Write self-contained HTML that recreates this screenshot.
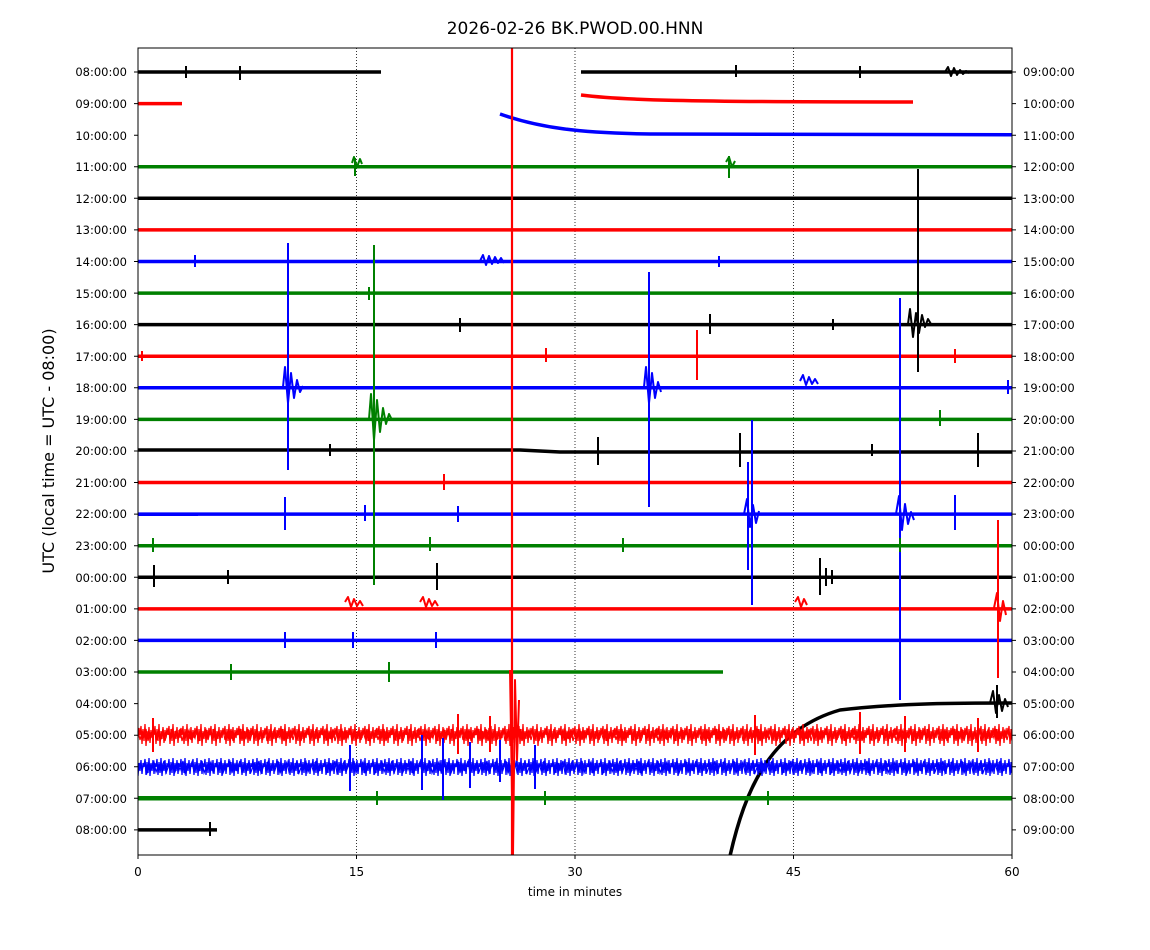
<!DOCTYPE html>
<html><head><meta charset="utf-8"><style>
body{margin:0;background:#fff;}
svg{display:block;font-family:"DejaVu Sans","Liberation Sans",sans-serif;}
</style></head><body>
<svg width="1150" height="950" viewBox="0 0 1150 950" xmlns="http://www.w3.org/2000/svg">
<rect width="1150" height="950" fill="#fff"/>
<defs>
<clipPath id="c"><rect x="138" y="48" width="874" height="807"/></clipPath>
<pattern id="pr" patternUnits="userSpaceOnUse" x="0" y="717" width="14" height="36"><path d="M0 18 L1 9 L2 27 L3 12 L4 24 L5 7 L6 29 L7 14 L8 22 L9 10 L10 26 L11 13 L12 21 L13 11 L14 18" fill="none" stroke="#f00" stroke-width="1.3"/></pattern>
<pattern id="pr2" patternUnits="userSpaceOnUse" x="0" y="717" width="17" height="36"><path d="M0 18 L2 13 L4 23 L6 15 L8 21 L10 12 L12 24 L14 16 L17 18" fill="none" stroke="#f00" stroke-width="1.2"/></pattern>
<pattern id="pb" patternUnits="userSpaceOnUse" x="0" y="750" width="12" height="34"><path d="M0 17 L1 9 L2 25 L3 12 L4 23 L5 8 L6 26 L7 13 L8 21 L9 10 L10 24 L11 13 L12 17" fill="none" stroke="#00f" stroke-width="1.3"/></pattern>
<pattern id="pb2" patternUnits="userSpaceOnUse" x="0" y="750" width="19" height="34"><path d="M0 17 L2 12 L4 22 L7 14 L9 20 L12 11 L14 23 L17 15 L19 17" fill="none" stroke="#00f" stroke-width="1.2"/></pattern>
</defs>
<text x="575" y="34" font-size="17" text-anchor="middle">2026-02-26 BK.PWOD.00.HNN</text>
<g stroke="#000" stroke-width="0.8" stroke-dasharray="1,2">
<line x1="356.5" y1="48" x2="356.5" y2="855"/><line x1="575" y1="48" x2="575" y2="855"/><line x1="793.5" y1="48" x2="793.5" y2="855"/>
</g>
<g clip-path="url(#c)" fill="none" stroke-linejoin="round">
<g stroke-width="3.5">
<path stroke="#000" d="M138 72H381M581 72H1012"/>
<path stroke="#f00" d="M138 103.6H182"/>
<path stroke="#f00" d="M581 95 C620 100 680 102 913 102"/>
<path stroke="#00f" d="M500 114 C540 128 580 133 650 134 L1012 134.8"/>
<path stroke="#008000" d="M138 166.7H1012"/>
<path stroke="#000" d="M138 198.3H1012"/>
<path stroke="#f00" d="M138 229.9H1012"/>
<path stroke="#00f" d="M138 261.5H1012"/>
<path stroke="#008000" d="M138 293.1H1012"/>
<path stroke="#000" d="M138 324.6H1012"/>
<path stroke="#f00" d="M138 356.2H1012"/>
<path stroke="#00f" d="M138 387.8H1012"/>
<path stroke="#008000" d="M138 419.4H1012"/>
<path stroke="#000" d="M138 450H520 L560 452 H1012"/>
<path stroke="#f00" d="M138 482.5H1012"/>
<path stroke="#00f" d="M138 514.1H1012"/>
<path stroke="#008000" d="M138 545.7H1012"/>
<path stroke="#000" d="M138 577.3H1012"/>
<path stroke="#f00" d="M138 608.9H1012"/>
<path stroke="#00f" d="M138 640.4H1012"/>
<path stroke="#008000" d="M138 672H723"/>
<path stroke="#000" d="M730 856 C745 790 770 730 840 710 C900 703 960 703 1012 703"/>
<path stroke="#008000" stroke-width="4.5" d="M138 798.3H1012"/>
<path stroke="#000" d="M138 829.9H217"/>
</g>
<rect x="138" y="717" width="874" height="36" fill="url(#pr)"/>
<rect x="138" y="717" width="874" height="36" fill="url(#pr2)"/>
<rect x="138" y="750" width="874" height="34" fill="url(#pb)"/>
<rect x="138" y="750" width="874" height="34" fill="url(#pb2)"/>
<rect x="138" y="513" width="60" height="3" fill="#00f"/>
<g stroke-width="2">
<path stroke="#000" d="M945 72 l3 -5 l3 9 l3 -8 l3 7 l3 -5 l3 4 l3 -3 l3 2 M186 66 v12 M240 66 v14 M736 65 v12 M860 66 v12"/>
<path stroke="#008000" d="M355 158 v18 M352 163 l2 -6 l3 10 l3 -8 l2 5 M729 156 v22 M726 162 l3 -5 l3 10 l3 -6"/>
<path stroke="#000" d="M918 169 V372 M908 324 l2 -15 l3 28 l3 -24 l3 20 l3 -18 l3 12 l3 -8 l3 5 M710 314 v20 M460 318 v14 M833 319 v11"/>
<path stroke="#00f" d="M480 261 l3 -6 l3 10 l3 -9 l3 8 l3 -7 l3 6 l3 -5 l3 5 M195 255 v12 M719 256 v11"/>
<path stroke="#008000" d="M369 287 v13"/>
<path stroke="#f00" d="M697 330 V380 M142 351 v10 M546 348 v14 M955 349 v14"/>
<path stroke="#00f" d="M288 243 V470 M283 387 l2 -20 l3 36 l3 -30 l3 25 l3 -18 l3 12 l3 -6 M649 272 V507 M644 387 l2 -20 l3 36 l3 -30 l3 25 l3 -16 l3 10 M800 381 l3 -6 l3 10 l3 -8 l3 7 l3 -5 l3 5 M1008 380 v14"/>
<path stroke="#008000" d="M374 245 V585 M369 419 l2 -25 l3 46 l3 -40 l3 32 l3 -24 l3 16 l3 -10 l3 6 M940 410 v16"/>
<path stroke="#000" d="M598 437 V465 M740 433 V467 M978 433 V467 M330 444 v12 M872 444 v12"/>
<path stroke="#f00" d="M444 474 v16"/>
<path stroke="#00f" d="M748 462 V570 M752 420 V605 M744 514 l3 -15 l3 28 l3 -22 l3 18 l3 -12 M900 298 V700 M896 514 l3 -18 l3 34 l3 -26 l3 20 l3 -12 l3 8 M955 495 V530 M285 497 V530 M458 506 v16 M365 505 v16"/>
<path stroke="#008000" d="M153 538 v14 M430 537 v14 M623 538 v14 M900 538 v14"/>
<path stroke="#000" d="M820 558 V595 M826 568 v18 M832 570 v14 M154 565 V587 M437 563 V590 M228 570 v14"/>
<path stroke="#f00" d="M998 520 V678 M994 608 l3 -15 l3 28 l3 -20 l3 14 M345 602 l3 -5 l3 10 l3 -8 l3 7 l3 -5 l3 5 M420 602 l3 -5 l3 10 l3 -8 l3 7 l3 -5 l3 5 M795 602 l3 -5 l3 10 l3 -8 l3 6"/>
<path stroke="#00f" d="M285 632 v16 M353 632 v16 M436 632 v16"/>
<path stroke="#008000" d="M231 664 v16 M389 662 v20"/>
<path stroke="#000" d="M997 685 V718 M990 703 l3 -12 l3 22 l3 -18 l3 16 l3 -12 l3 8"/>
<path stroke="#f00" d="M153 718 v34 M458 714 v40 M490 716 v36 M755 715 v40 M860 712 v42 M905 716 v36 M978 718 v34"/>
<path stroke="#00f" d="M350 745 v46 M422 735 v55 M443 738 v62 M470 742 v46 M500 740 v42 M535 745 v44"/>
<path stroke="#008000" d="M377 791 v14 M545 791 v14 M768 791 v14"/>
<path stroke="#000" d="M210 822 v14"/>
</g>
<line x1="512" y1="48" x2="512" y2="855" stroke="#f00" stroke-width="2.2"/>
<path stroke="#f00" stroke-width="2" d="M510 670 L513 855 L515 680 L517 760 L519 700"/>
</g>
<rect x="138" y="48" width="874" height="807" fill="none" stroke="#000" stroke-width="1"/>
<g stroke="#000" stroke-width="1">
<path d="M134 72H138M134 103.6H138M134 135.2H138M134 166.7H138M134 198.3H138M134 229.9H138M134 261.5H138M134 293.1H138M134 324.6H138M134 356.2H138M134 387.8H138M134 419.4H138M134 451H138M134 482.5H138M134 514.1H138M134 545.7H138M134 577.3H138M134 608.9H138M134 640.4H138M134 672H138M134 703.6H138M134 735.2H138M134 766.8H138M134 798.3H138M134 829.9H138"/>
<path d="M1012 72H1016M1012 103.6H1016M1012 135.2H1016M1012 166.7H1016M1012 198.3H1016M1012 229.9H1016M1012 261.5H1016M1012 293.1H1016M1012 324.6H1016M1012 356.2H1016M1012 387.8H1016M1012 419.4H1016M1012 451H1016M1012 482.5H1016M1012 514.1H1016M1012 545.7H1016M1012 577.3H1016M1012 608.9H1016M1012 640.4H1016M1012 672H1016M1012 703.6H1016M1012 735.2H1016M1012 766.8H1016M1012 798.3H1016M1012 829.9H1016"/>
<path d="M138 855V859M356.5 855V859M575 855V859M793.5 855V859M1012 855V859"/>
</g>
<g font-size="11.5" text-anchor="end">
<text x="127" y="76">08:00:00</text><text x="127" y="108">09:00:00</text><text x="127" y="140">10:00:00</text><text x="127" y="171">11:00:00</text><text x="127" y="203">12:00:00</text><text x="127" y="234">13:00:00</text><text x="127" y="266">14:00:00</text><text x="127" y="298">15:00:00</text><text x="127" y="329">16:00:00</text><text x="127" y="361">17:00:00</text><text x="127" y="392">18:00:00</text><text x="127" y="424">19:00:00</text><text x="127" y="455">20:00:00</text><text x="127" y="487">21:00:00</text><text x="127" y="518">22:00:00</text><text x="127" y="550">23:00:00</text><text x="127" y="582">00:00:00</text><text x="127" y="613">01:00:00</text><text x="127" y="645">02:00:00</text><text x="127" y="676">03:00:00</text><text x="127" y="708">04:00:00</text><text x="127" y="739">05:00:00</text><text x="127" y="771">06:00:00</text><text x="127" y="803">07:00:00</text><text x="127" y="834">08:00:00</text>
</g>
<g font-size="11.5" text-anchor="start">
<text x="1023" y="76">09:00:00</text><text x="1023" y="108">10:00:00</text><text x="1023" y="140">11:00:00</text><text x="1023" y="171">12:00:00</text><text x="1023" y="203">13:00:00</text><text x="1023" y="234">14:00:00</text><text x="1023" y="266">15:00:00</text><text x="1023" y="298">16:00:00</text><text x="1023" y="329">17:00:00</text><text x="1023" y="361">18:00:00</text><text x="1023" y="392">19:00:00</text><text x="1023" y="424">20:00:00</text><text x="1023" y="455">21:00:00</text><text x="1023" y="487">22:00:00</text><text x="1023" y="518">23:00:00</text><text x="1023" y="550">00:00:00</text><text x="1023" y="582">01:00:00</text><text x="1023" y="613">02:00:00</text><text x="1023" y="645">03:00:00</text><text x="1023" y="676">04:00:00</text><text x="1023" y="708">05:00:00</text><text x="1023" y="739">06:00:00</text><text x="1023" y="771">07:00:00</text><text x="1023" y="803">08:00:00</text><text x="1023" y="834">09:00:00</text>
</g>
<g font-size="12" text-anchor="middle">
<text x="138" y="876">0</text><text x="356.5" y="876">15</text><text x="575" y="876">30</text><text x="793.5" y="876">45</text><text x="1012" y="876">60</text>
</g>
<text x="575" y="896" font-size="12" text-anchor="middle">time in minutes</text>
<text transform="translate(54,451) rotate(-90)" font-size="16" text-anchor="middle">UTC (local time = UTC - 08:00)</text>
</svg>
</body></html>
